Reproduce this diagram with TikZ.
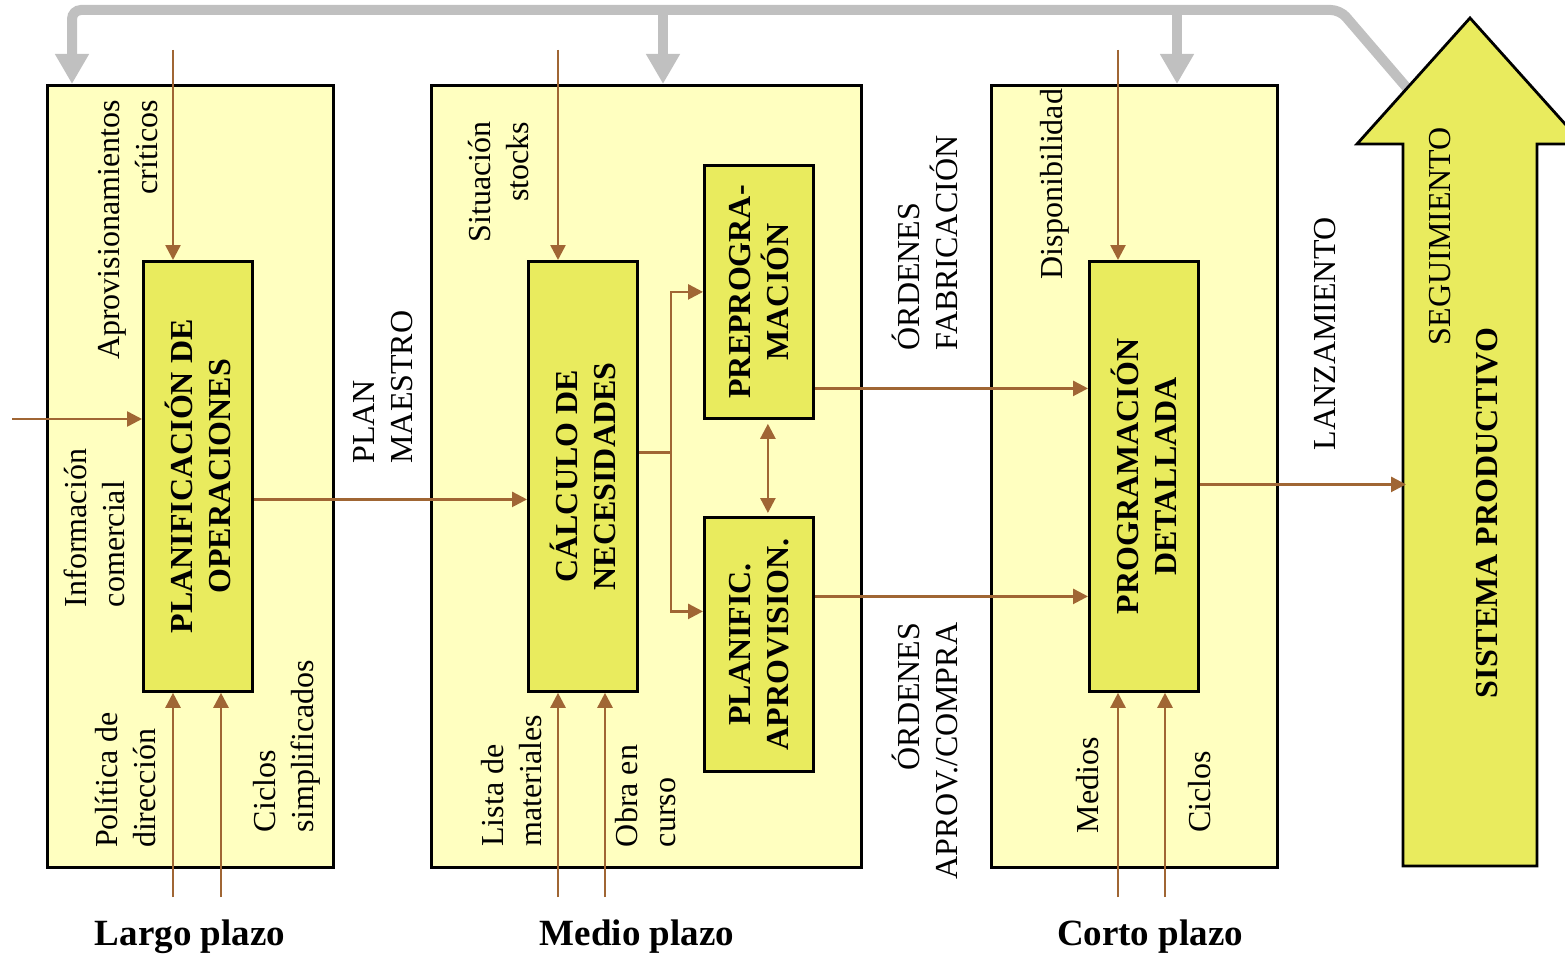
\documentclass[tikz,border=0pt]{standalone}
\usepackage{fontspec}
\setmainfont{Liberation Serif}
\usetikzlibrary{arrows.meta}
\definecolor{outerfill}{RGB}{255,255,192}
\definecolor{innerfill}{RGB}{233,235,94}
\definecolor{brn}{RGB}{160,102,52}
\definecolor{gry}{RGB}{192,192,192}
\begin{document}
\begin{tikzpicture}[x=1pt,y=-1pt,
 obox/.style={draw=black,line width=2.8pt,fill=outerfill,inner sep=0,anchor=north west},
 ibox/.style={draw=black,line width=2.8pt,fill=innerfill,inner sep=0,anchor=north west,minimum width=109pt},
 lbl/.style={rotate=90,inner sep=0,font=\fontsize{32}{38}\selectfont},
 blbl/.style={rotate=90,inner sep=0,align=center,font=\fontsize{32}{38}\selectfont\bfseries},
 plazo/.style={anchor=base,inner sep=0,font=\fontsize{37}{40}\selectfont\bfseries},
 barr/.style={draw=brn,line width=2.6pt,-{Triangle[length=15pt,width=15pt]}},
 bline/.style={draw=brn,line width=2.6pt},
 garr/.style={draw=gry,line width=10pt,-{Triangle[length=30pt,width=32pt]}},
]
\clip (0,0) rectangle (1565,955);
\fill[white] (0,0) rectangle (1565,955);

% grey feedback lines
\coordinate (g0) at (1407,88);
\coordinate (g1) at (1340,10);
\coordinate (g2) at (72,10);
\coordinate (g3) at (663,10);
\coordinate (g4) at (1177,10);

% outer boxes
\node[obox,minimum width=286pt,minimum height=782pt] (L) at (46,84) {};
\node[obox,minimum width=430pt,minimum height=782pt] (M) at (430,84) {};
\node[obox,minimum width=286pt,minimum height=782pt] (C) at (990,84) {};

\draw[garr,rounded corners=9pt] (g0) -- (g1) -- (g2) -- (g2 |- L.north);
\draw[garr] (g3) -- (g3 |- M.north);
\draw[garr] (g4) -- (g4 |- C.north);

% big arrow
\draw[black,line width=2.8pt,fill=innerfill,line join=miter]
  (1470,18) -- (1583,144) -- (1537,144) -- (1537,866) -- (1403,866) -- (1403,144) -- (1357,144) -- cycle;
\coordinate (shaftL) at (1406,483);

% inner boxes
\node[ibox,minimum height=430pt] (plan) at (142,260) {};
\node[ibox,minimum height=430pt] (calc) at (527,260) {};
\node[ibox,minimum height=253pt] (prep) at (703,164) {};
\node[ibox,minimum height=254pt] (apr) at (703,516) {};
\node[ibox,minimum height=430pt] (prog) at (1088,260) {};

\node[blbl] at (plan) {PLANIFICACIÓN DE\\OPERACIONES};
\node[blbl] at (calc) {CÁLCULO DE\\NECESIDADES};
\node[blbl] at (prep) {PREPROGRA-\\MACIÓN};
\node[blbl] at (apr) {PLANIFIC.\\APROVISION.};
\node[blbl] at (prog) {PROGRAMACIÓN\\DETALLADA};

% brown arrows, box L
\coordinate (a1) at (173,50);
\draw[barr] (a1) -- (a1 |- plan.north);
\coordinate (a2) at (12,419);
\draw[barr] (a2) -- (a2 -| plan.west);
\coordinate (a3) at (173,897);
\draw[barr] (a3) -- (a3 |- plan.south);
\coordinate (a4) at (221,897);
\draw[barr] (a4) -- (a4 |- plan.south);
\coordinate (pm) at ([yshift=-23pt]plan.east);
\draw[barr] (pm) -- (pm -| calc.west);

% box M
\coordinate (m1) at (558,50);
\draw[barr] (m1) -- (m1 |- calc.north);
\coordinate (m2) at (558,897);
\draw[barr] (m2) -- (m2 |- calc.south);
\coordinate (m3) at (605,897);
\draw[barr] (m3) -- (m3 |- calc.south);
\coordinate (cs) at ([yshift=24pt]calc.east);
\coordinate (j) at ([xshift=32pt]cs);
\draw[bline] (cs) -- (j);
\draw[barr] (j) |- (prep.west);
\coordinate (aw) at ([yshift=33pt]apr.west);
\draw[barr] (j) |- (aw);
\coordinate (d1) at ([xshift=9pt]prep.south);
\coordinate (d2) at ([xshift=9pt]apr.north);
\draw[bline,{Triangle[length=15pt,width=15pt]}-{Triangle[length=15pt,width=15pt]},shorten <=4pt,shorten >=3pt] (d1) -- (d2);
\coordinate (p1) at ([yshift=-96.5pt]prep.east);
\draw[barr] (p1) -- (p1 -| prog.west);
\coordinate (p2) at ([yshift=48pt]apr.east);
\draw[barr] (p2) -- (p2 -| prog.west);

% box C
\coordinate (c1) at (1118,50);
\draw[barr] (c1) -- (c1 |- prog.north);
\coordinate (c2) at (1118,897);
\draw[barr] (c2) -- (c2 |- prog.south);
\coordinate (c3) at (1165,897);
\draw[barr] (c3) -- (c3 |- prog.south);
\coordinate (lz) at ([yshift=-8pt]prog.east);
\draw[barr] (lz) -- (lz -| shaftL);

% labels
\node[lbl,align=right] (t1) at (128,230) {Aprovisionamientos\\críticos};
\node[lbl,align=left] (t2) at (94,528) {Información\\comercial};
\node[lbl,align=left] (t3) at (126,780) {Política de\\dirección};
\node[lbl,align=left] (t4) at (287,746) {Ciclos\\simplificados};
\node[lbl,align=left] (t5) at (383,387) {PLAN\\MAESTRO};
\node[lbl,align=right] (t6) at (499,182) {Situación\\stocks};
\node[lbl,align=left] (t7) at (512,781) {Lista de\\materiales};
\node[lbl,align=left] (t8) at (646,796) {Obra en\\curso};
\node[lbl,align=left] (t9) at (925,243) {ÓRDENES\\FABRICACIÓN};
\node[lbl,align=right] (t10) at (925,751) {ÓRDENES\\APROV./COMPRA};
\node[lbl] (t11) at (1055,184) {Disponibilidad};
\node[lbl] (t12) at (1088,785) {Medios};
\node[lbl] (t13) at (1200,792) {Ciclos};
\node[lbl] (t14) at (1325,334) {LANZAMIENTO};
\node[lbl] (t15) at (1440,236) {SEGUIMIENTO};
\node[blbl] (t16) at (1487,513) {SISTEMA PRODUCTIVO};

\node[plazo] (q1) at (190,945) {Largo plazo};
\node[plazo] (q2) at (637,945) {Medio plazo};
\node[plazo] (q3) at (1150,945) {Corto plazo};
\end{tikzpicture}
\end{document}
